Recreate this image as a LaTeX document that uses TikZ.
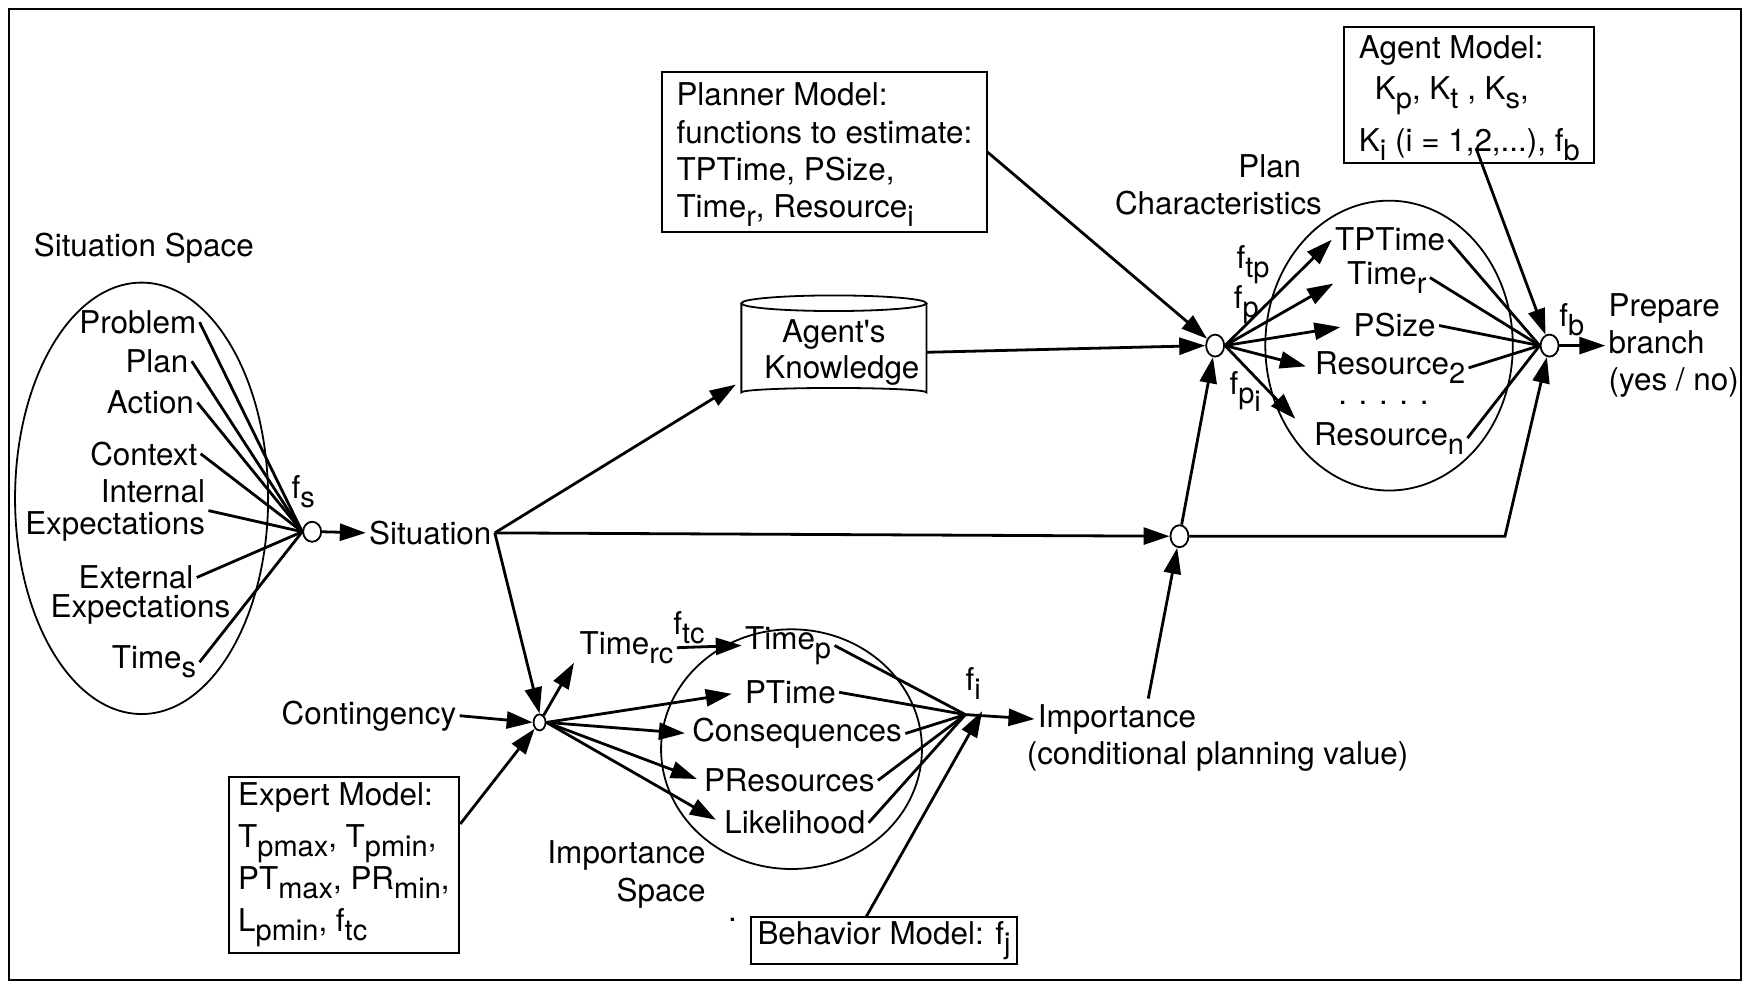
\documentclass[tikz,border=0pt]{standalone}
\usepackage{fontspec}
\setmainfont{TeX Gyre Heros}
\usetikzlibrary{arrows.meta,shapes.geometric,calc}
\newcommand{\px}{0.5574pt}
\newcommand{\sbx}[1]{\raisebox{-0.55ex}{\fontsize{14.5}{14.5}\selectfont #1}}
\begin{document}
\begin{tikzpicture}[x=0.5574pt,y=-0.5574pt,
  every node/.style={font=\fontsize{15.7}{18.5}\selectfont, inner sep=1.5pt},
  ln/.style={line width=1.4pt},
  ar/.style={line width=1.4pt, -{Triangle[length=13pt,width=8.5pt]}},
  thinl/.style={line width=0.9pt},
  jn/.style={draw, ellipse, line width=0.9pt, minimum width=9pt, minimum height=11pt, inner sep=0pt},
  boxn/.style={draw, line width=1pt, align=left, inner sep=0pt}]
\useasboundingbox (0,0) rectangle (1568,883);
\draw[line width=1.1pt] (8,8) rectangle (1562,879);

% ---------- situation space ----------
\node (sslab) at (129,223) {Situation Space};
\node[draw, ellipse, thinl, minimum width={227*\px}, minimum height={387*\px}] (sspace) at (127,447) {};
\node[anchor=east] (problem) at (179,289) {Problem};
\node[anchor=east] (plan) at (172,324) {Plan};
\node[anchor=east] (action) at (177,361) {Action};
\node[anchor=east] (context) at (180,407) {Context};
\node[anchor=east, align=right, font=\fontsize{15.7}{15.8}\selectfont] (intexp) at (187,458) {Internal\\Expectations};
\node (ext1) at (122,518) {External};
\node (ext2) at (126,547) {Expectations};
\node[anchor=east] (times) at (179,594) {Time\sbx{s}};
\node[jn, minimum height=10pt] (fs) at (280,477) {};
\node (fslab) at (272,441) {f\sbx{s}};
\foreach \n in {problem,plan,action,context,intexp,ext1,times}
  \draw[ln] (\n.east) -- (fs.west);
\node (situation) at (386,478) {Situation};
\draw[ar] (fs.east) -- (situation.west);

% ---------- agent's knowledge ----------
\node[minimum width={166*\px}, minimum height={80*\px}, align=center, font=\fontsize{15.7}{17.8}\selectfont] (ak) at (748,316) {Agent\textquotesingle s\\\hspace*{8pt}Knowledge};
\draw[thinl] (748,272) ellipse [x radius=83, y radius=7];
\draw[thinl] (665,272) -- (665,352) arc[start angle=180, end angle=360, x radius=83, y radius=4] -- (831,272);
\coordinate (akin) at (660,345);

% ---------- planner model ----------
\node[boxn, minimum width={291*\px}, minimum height={143*\px}, font=\fontsize{15.7}{18.6}\selectfont] (planner) at (739.5,136.5)
  {\rule{0pt}{14pt}Planner Model:\\functions to estimate:\\TPTime, PSize,\\Time\sbx{r}, Resource\sbx{i}};

% ---------- plan characteristics ----------
\node (pcl1) at (1139,149) {Plan};
\node (pcl2) at (1093,182) {Characteristics};
\node[draw, ellipse, thinl, minimum width={222*\px}, minimum height={260*\px}] (pspace) at (1246,310) {};
\node (tptime) at (1247,215) {TPTime};
\node (timer) at (1244,249) {Time\sbx{r}};
\node (psize) at (1251,292) {PSize};
\node (res2) at (1247,330) {Resource\sbx{2}};
\node[inner sep=0pt] (dots) at (1241,361) {. . . . .};
\node (resn) at (1246,393) {Resource\sbx{n}};
\node (ftp) at (1124,237) {f\sbx{tp}};
\node (fp) at (1118,273) {f\sbx{p}};
\node (fpi) at (1117,351) {f\sbx{p\sbx{i}}};
\node[jn] (pc) at (1090,310) {};
\node[jn] (fb) at (1390,310) {};
\node (fblab) at (1410,287) {f\sbx{b}};
\node[anchor=west, align=left] (prep) at (1440,310) {Prepare\\branch\\(yes / no)};

\draw[ar] (planner.east) -- (pc);
\draw[ar] (ak.east) -- (pc.west);
\draw[ar] (pc.east) -- (tptime.west);
\draw[ar, shorten >=6pt] (pc.east) -- (timer.west);
\draw[ar, shorten >=5pt] (pc.east) -- (psize.west);
\draw[ar, shorten >=3pt] (pc.east) -- (res2.west);
\draw[ar, shorten >=3pt] (pc.east) -- ($(resn.north west)+(-10,4)$);
\foreach \n in {tptime,timer,psize,res2,resn}
  \draw[ln] (\n.east) -- (fb.west);
\draw[ar] (fb.east) -- (prep.west);

% ---------- agent model ----------
\node[boxn, minimum width={224*\px}, minimum height={122*\px}] (agent) at (1318,85)
  {\rule{0pt}{15pt}Agent Model:\\[2pt]\hspace*{8pt}K\sbx{p}, K\sbx{t} , K\sbx{s},\\[6pt]K\sbx{i} (i = 1,2,...), f\sbx{b}};
\draw[ar] ($(agent.south)+(6,-14)$) -- (fb);

% ---------- middle junction ----------
\node[jn] (mid) at (1058,481) {};
\coordinate (corner) at (1350,481);
\draw[ar] (situation.east) -- (mid.west);
\draw[ar] (situation.east) -- (akin);
\draw[ar] (mid) -- (pc);
\draw[ar] (mid.east) -- (corner) -- (fb);

% ---------- contingency / importance ----------
\node (cont) at (331,642) {Contingency};
\node[jn, minimum width=6pt, minimum height=8pt] (cc) at (484,648) {};
\node[boxn, minimum width={207*\px}, minimum height={158*\px}, font=\fontsize{15.7}{21}\selectfont] (expert) at (308.5,776)
  {Expert Model:\\T\sbx{pmax}, T\sbx{pmin},\\PT\sbx{max}, PR\sbx{min},\\L\sbx{pmin}, f\sbx{tc}};
\draw[ar] (cont.east) -- (cc.west);
\draw[ar] (situation.east) -- (cc.north);
\draw[ar] ($(expert.north east)+(0,43)$) -- (cc);

\node[draw, ellipse, thinl, minimum width={234*\px}, minimum height={215*\px}] (ispace) at (710,672) {};
\node (timerc) at (562,581) {Time\sbx{rc}};
\node (ftc) at (618,563) {f\sbx{tc}};
\node (timep) at (707,579) {Time\sbx{p}};
\node (ptime) at (709,621) {PTime};
\node (cons) at (715,658) {Consequences};
\node (pres) at (708,700) {PResources};
\node (likeli) at (713,738) {Likelihood};
\node[anchor=east, align=right, font=\fontsize{15.7}{19}\selectfont] (islab) at (636,784) {Importance\\Space};
\node (dot) at (657,825) {.};

\draw[ar] (cc) -- ($(timerc.south west)+(-2,-4)$);
\draw[ar] (timerc.east) -- (timep.west);
\draw[ar, shorten >=5pt] (cc.east) -- (ptime.west);
\draw[ar, shorten >=2pt] (cc.east) -- (cons.west);
\draw[ar, shorten >=2pt] (cc.east) -- (pres.west);
\draw[ar, shorten >=3pt] (cc.east) -- (likeli.west);

\coordinate (fi) at (866,641);
\node (filab) at (873,613) {f\sbx{i}};
\foreach \n in {timep,ptime,cons,pres,likeli}
  \draw[ln] (\n.east) -- (fi);
\node[anchor=west] (imp1) at (928,645) {Importance};
\node[anchor=west] (imp2) at (918,679) {(conditional planning value)};
\draw[ar] (fi) -- (imp1.west);
\node[boxn, minimum width={238*\px}, minimum height={42*\px}] (beh) at (793,844) {Behavior Model: f\sbx{j}};
\coordinate (fitip) at (881,638);
\draw[ar] ($(beh.north west)+(104,0)$) -- (fitip);
\draw[ar] ($(imp1.north)+(28,-2)$) -- (mid);
\end{tikzpicture}
\end{document}
